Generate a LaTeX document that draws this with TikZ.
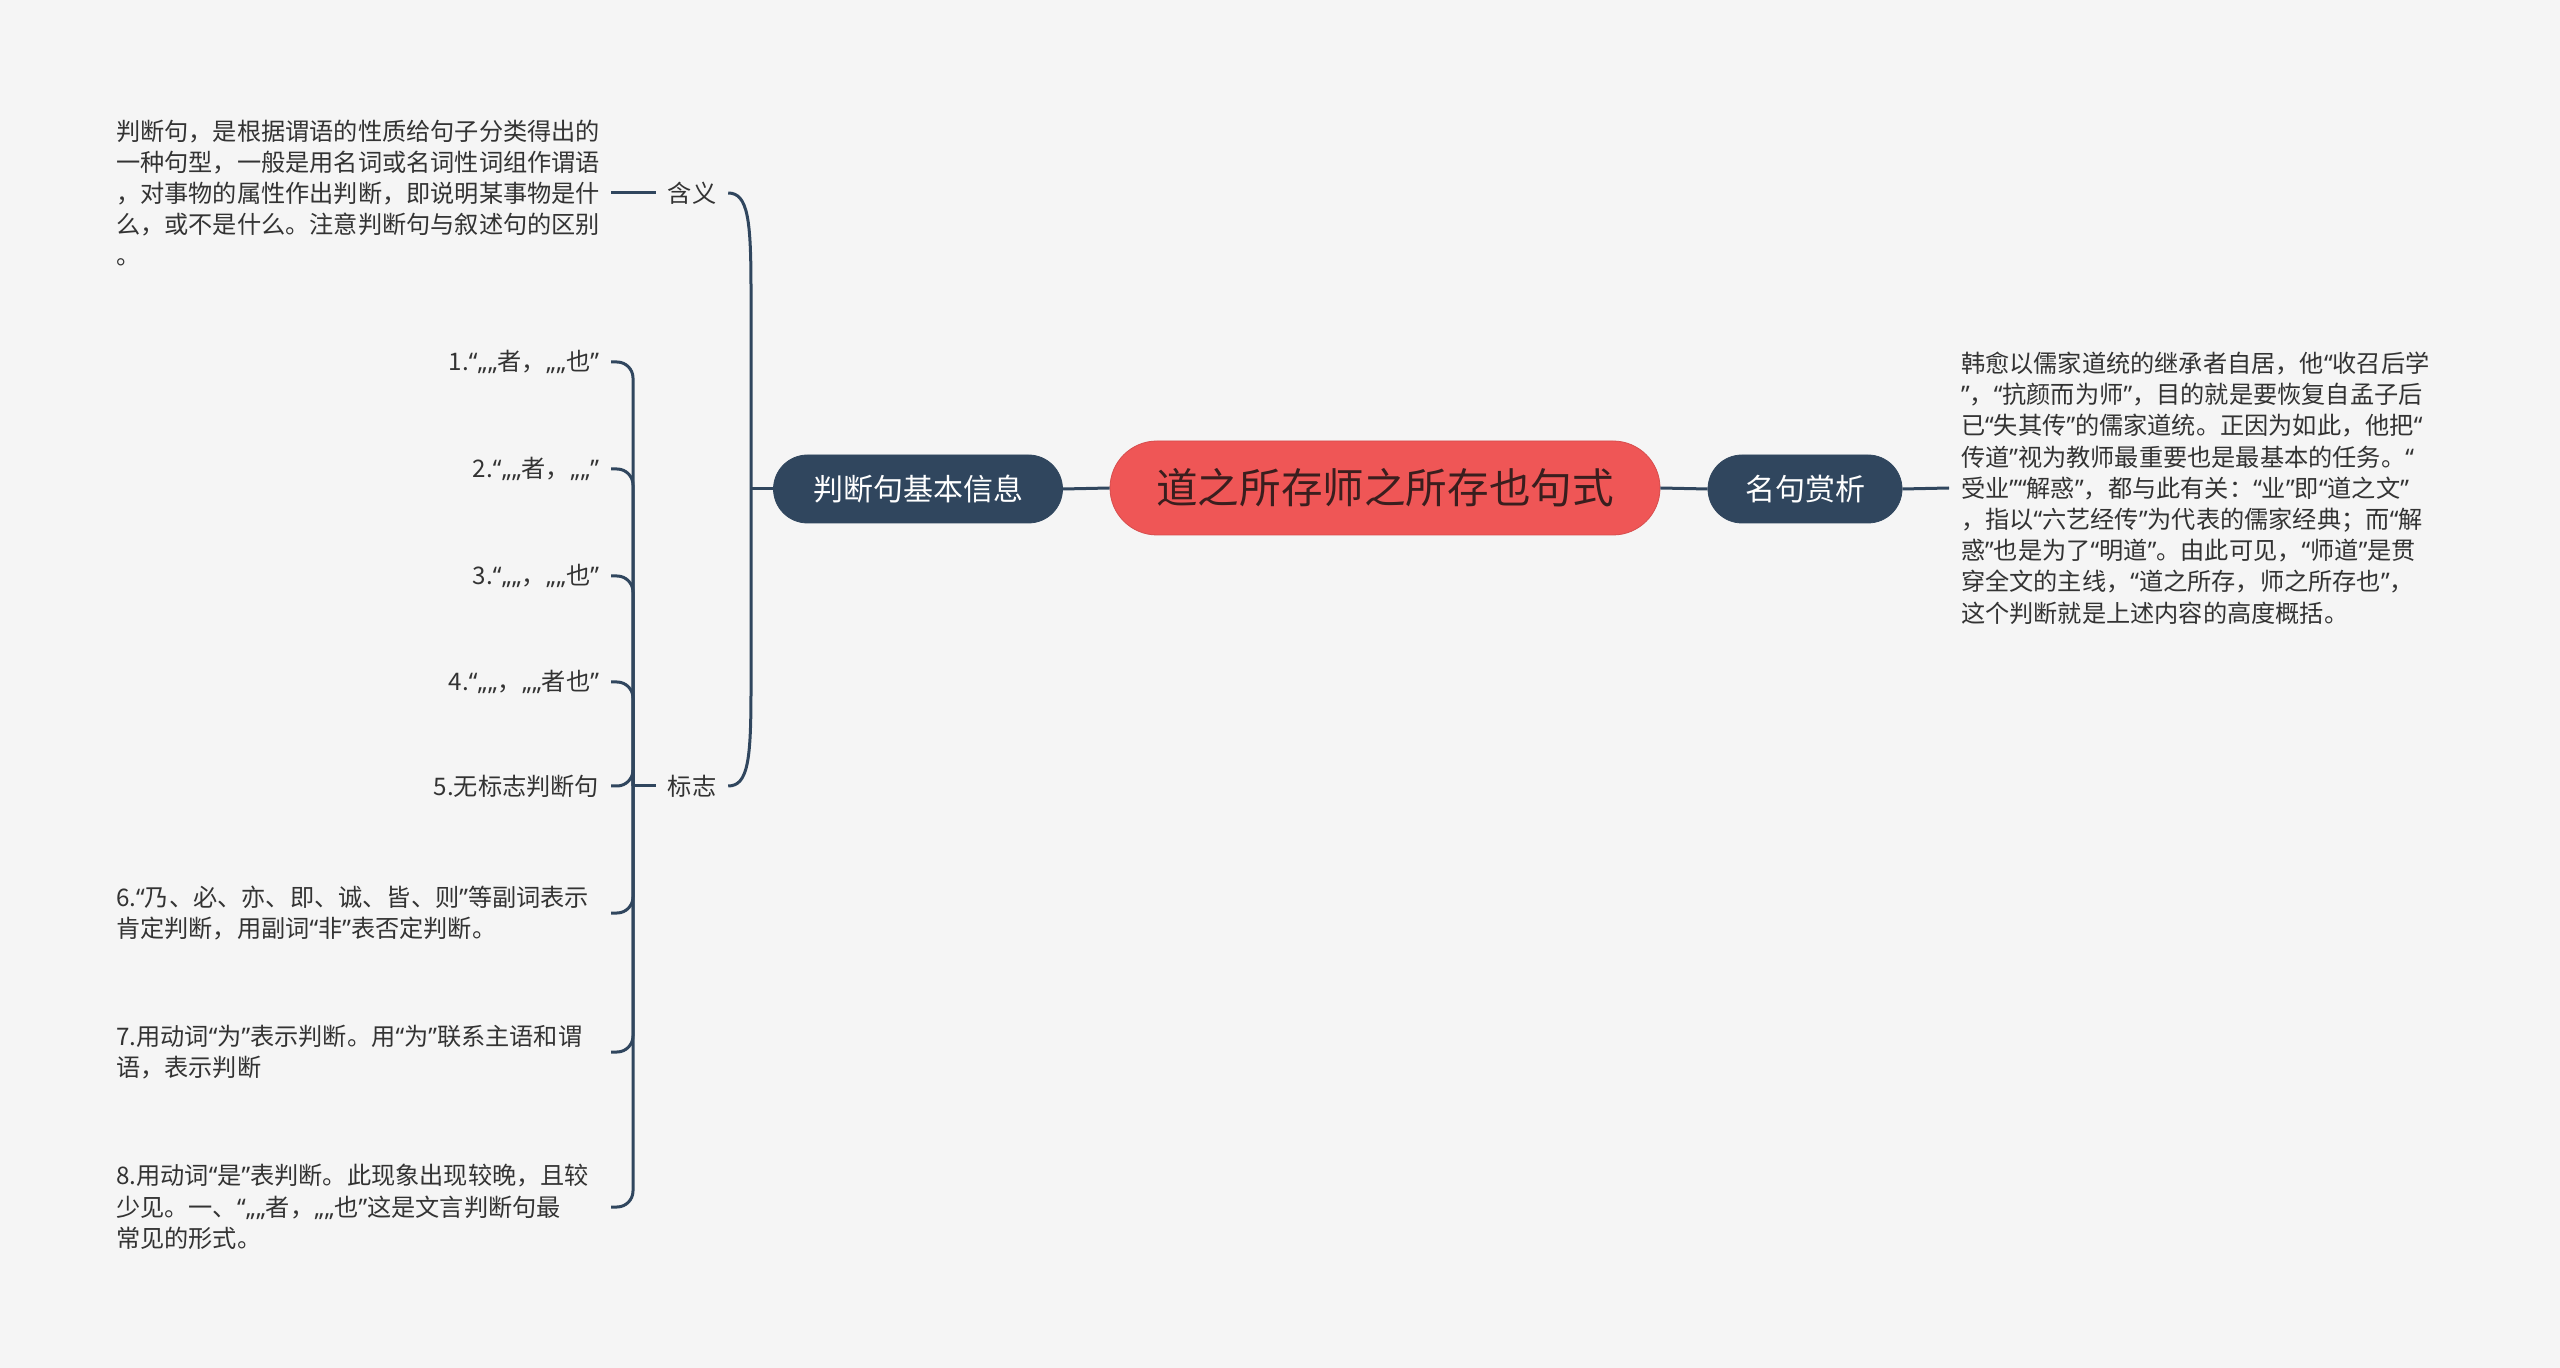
\documentclass[tikz,border=0pt]{standalone}
\usepackage{fontspec}
\setmainfont{Noto Sans CJK SC}
\newfontfamily\qf{Noto Sans}
\usepackage{newunicodechar}
\newunicodechar{“}{{\qf\char"201C}}
\newunicodechar{”}{{\qf\char"201D}}
\newunicodechar{„}{{\qf\char"201E}}
\usetikzlibrary{calc}
\definecolor{bg}{HTML}{F5F5F5}
\definecolor{navy}{HTML}{30465E}
\definecolor{redc}{HTML}{EF5656}
\definecolor{txt}{HTML}{333333}
\definecolor{ctxt}{HTML}{3A1E1E}
\begin{document}
\begin{tikzpicture}[x=0.5pt,y=-0.5pt,
  conn/.style={draw=navy, line width=1.5pt},
  topic/.style={fill=navy, draw=navy, text=white, rounded corners=17pt, minimum height=34pt, inner sep=0pt, font=\fontsize{15pt}{18pt}\selectfont},
  rootbox/.style={fill=redc, draw=redc!90!black, line width=0.4pt, text=ctxt, rounded corners=23.5pt, minimum height=47pt, minimum width=275pt, inner sep=0pt, font=\fontsize{20.8pt}{24pt}\selectfont},
  body/.style={text=txt, inner sep=0pt, outer sep=6pt, font=\fontsize{12.1pt}{15.6pt}\selectfont},
  lbl/.style={text=txt, inner sep=0pt, outer sep=6pt, font=\fontsize{12.1pt}{15.6pt}\selectfont},
  multi/.style={body, anchor=west, text width=241.5pt, align=left}
]
\fill[bg] (0,0) rectangle (2560,1368);
\useasboundingbox (0,0) rectangle (2560,1368);

\node[rootbox] (root) at (1385,488) {道之所存师之所存也句式};
\node[topic, minimum width=144.5pt] (judge) at (918,489) {判断句基本信息};
\node[topic, minimum width=97pt] (ming) at (1805,489) {名句赏析};

\node[body, anchor=west, align=left] (mtext) at (1949,488) {韩愈以儒家道统的继承者自居，他“收召后学\\”，“抗颜而为师”，目的就是要恢复自孟子后\\已“失其传”的儒家道统。正因为如此，他把“\\传道”视为教师最重要也是最基本的任务。“\\受业”“解惑”，都与此有关：“业”即“道之文”\\，指以“六艺经传”为代表的儒家经典；而“解\\惑”也是为了“明道”。由此可见，“师道”是贯\\穿全文的主线，“道之所存，师之所存也”，\\这个判断就是上述内容的高度概括。};

\node[lbl] (hanyi) at (692,193) {含义};
\node[lbl] (biaozhi) at (692,786) {标志};

\node[multi] (htext) at (104,193) {判断句，是根据谓语的性质给句子分类得出的\\一种句型，一般是用名词或名词性词组作谓语\\，对事物的属性作出判断，即说明某事物是什\\么，或不是什么。注意判断句与叙述句的区别\\。};

\node[body, anchor=east] (i1) at (611,362) {1.“„„者，„„也”};
\node[body, anchor=east] (i2) at (611,469) {2.“„„者，„„”};
\node[body, anchor=east] (i3) at (611,576) {3.“„„，„„也”};
\node[body, anchor=east] (i4) at (611,682) {4.“„„，„„者也”};
\node[body, anchor=east] (i5) at (611,786) {5.无标志判断句};
\node[multi] (i6) at (104,913) {6.“乃、必、亦、即、诚、皆、则”等副词表示\\肯定判断，用副词“非”表否定判断。};
\node[multi] (i7) at (104,1052) {7.用动词“为”表示判断。用“为”联系主语和谓\\语，表示判断};
\node[multi] (i8) at (104,1207) {8.用动词“是”表判断。此现象出现较晚，且较\\少见。一、“„„者，„„也”这是文言判断句最\\常见的形式。};

\coordinate (j1) at (751,489);
\coordinate (j2) at (633,786);

\draw[conn] (root.west) -- (judge.east);
\draw[conn] (root.east) -- (ming.west);
\draw[conn] (ming.east) -- (mtext.west);
\draw[conn] (judge.west) -- (j1);
\draw[conn] (hanyi.east) .. controls (748,193) and (751,220) .. (751,290) -- (751,690) .. controls (751,760) and (748,786) .. (biaozhi.east);
\draw[conn] (htext.east) -- (hanyi.west);
\draw[conn] (biaozhi.west) -- (j2);
\foreach \i in {i1,i2,i3,i4,i5,i6,i7,i8}
  \draw[conn, rounded corners=8pt] (\i.east) -| (j2);
\end{tikzpicture}
\end{document}
